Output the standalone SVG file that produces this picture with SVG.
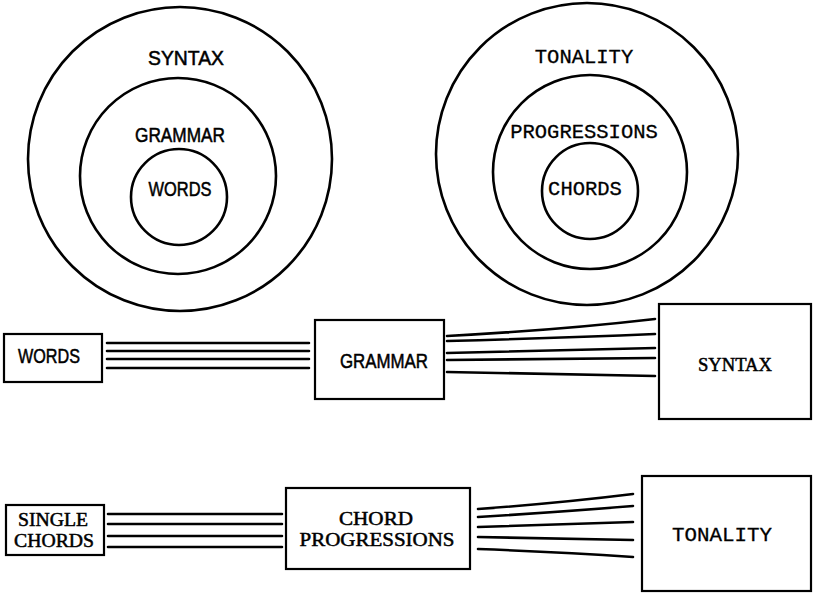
<svg xmlns="http://www.w3.org/2000/svg" width="813" height="593" viewBox="0 0 813 593">
<style>
.ring{fill:none;stroke:#000;stroke-width:2.6}
.box{fill:#fff;stroke:#000;stroke-width:2.2}
.ln{fill:none;stroke:#000;stroke-width:2.6;stroke-linecap:round}
.sans{font-family:"Liberation Sans","DejaVu Sans",sans-serif;font-size:19.5px;fill:#000;stroke:#000;stroke-width:0.5;text-anchor:middle}
.mono{font-family:"Liberation Mono","DejaVu Sans Mono",monospace;font-size:20.5px;fill:#000;stroke:#000;stroke-width:0.3;text-anchor:middle}
.serif{font-family:"Liberation Serif","DejaVu Serif",serif;font-size:19px;fill:#000;stroke:#000;stroke-width:0.5;text-anchor:middle}
</style>
<rect width="813" height="593" fill="#fff"/>
<g id="language-circles">
  <g id="c-syntax"><circle class="ring" cx="180" cy="159" r="152"/><text class="sans" x="186" y="65" textLength="76" lengthAdjust="spacingAndGlyphs">SYNTAX</text></g>
  <g id="c-grammar"><circle class="ring" cx="178" cy="176" r="98"/><text class="sans" x="180" y="142" textLength="90" lengthAdjust="spacingAndGlyphs">GRAMMAR</text></g>
  <g id="c-words"><circle class="ring" cx="179" cy="197" r="48"/><text class="sans" x="180" y="196" textLength="63" lengthAdjust="spacingAndGlyphs">WORDS</text></g>
</g>
<g id="music-circles">
  <g id="c-tonality"><circle class="ring" cx="587" cy="154" r="151"/><text class="mono" x="584" y="63">TONALITY</text></g>
  <g id="c-progressions"><circle class="ring" cx="590" cy="172" r="97"/><text class="mono" x="584" y="138">PROGRESSIONS</text></g>
  <g id="c-chords"><circle class="ring" cx="590" cy="191" r="48"/><text class="mono" x="585" y="195">CHORDS</text></g>
</g>
<g id="connectors">
  <path class="ln" d="M107 343 L309 343 M107 351 L309 351 M107 359 L309 359 M107 368 L309 368"/>
  <path class="ln" d="M447 336 Q560 330 655 319 M447 341 Q560 338 655 334 M447 353 L655 348 M447 360 L655 358 M447 372 Q560 374 655 376"/>
  <path class="ln" d="M108 514 L282 514 M108 524 L282 524 M108 536 L282 536 M108 547 L282 547"/>
  <path class="ln" d="M478 509 Q560 503 633 494 M478 517 Q560 512 633 506 M478 527 L633 522 M478 537 L633 540 M478 549 Q560 552 633 557"/>
</g>
<g id="b-words"><rect class="box" x="4" y="334" width="98" height="48"/><text class="sans" x="49" y="363" textLength="62" lengthAdjust="spacingAndGlyphs">WORDS</text></g>
<g id="b-grammar"><rect class="box" x="315" y="320" width="129" height="79"/><text class="sans" x="384" y="368" textLength="88" lengthAdjust="spacingAndGlyphs">GRAMMAR</text></g>
<g id="b-syntax"><rect class="box" x="659" y="304" width="152" height="115"/><text class="serif" x="735" y="371" textLength="74" lengthAdjust="spacingAndGlyphs">SYNTAX</text></g>
<g id="b-single-chords"><rect class="box" x="6" y="505" width="98" height="50"/><text class="serif" x="53" y="526" textLength="70" lengthAdjust="spacingAndGlyphs">SINGLE</text><text class="serif" x="54" y="547" textLength="80" lengthAdjust="spacingAndGlyphs">CHORDS</text></g>
<g id="b-chord-progressions"><rect class="box" x="286" y="488" width="184" height="81"/><text class="serif" x="376" y="525" textLength="74" lengthAdjust="spacingAndGlyphs">CHORD</text><text class="serif" x="377" y="546" textLength="155" lengthAdjust="spacingAndGlyphs">PROGRESSIONS</text></g>
<g id="b-tonality"><rect class="box" x="642" y="476" width="169" height="115"/><text class="mono" x="722" y="541" textLength="100" lengthAdjust="spacingAndGlyphs">TONALITY</text></g>
</svg>
